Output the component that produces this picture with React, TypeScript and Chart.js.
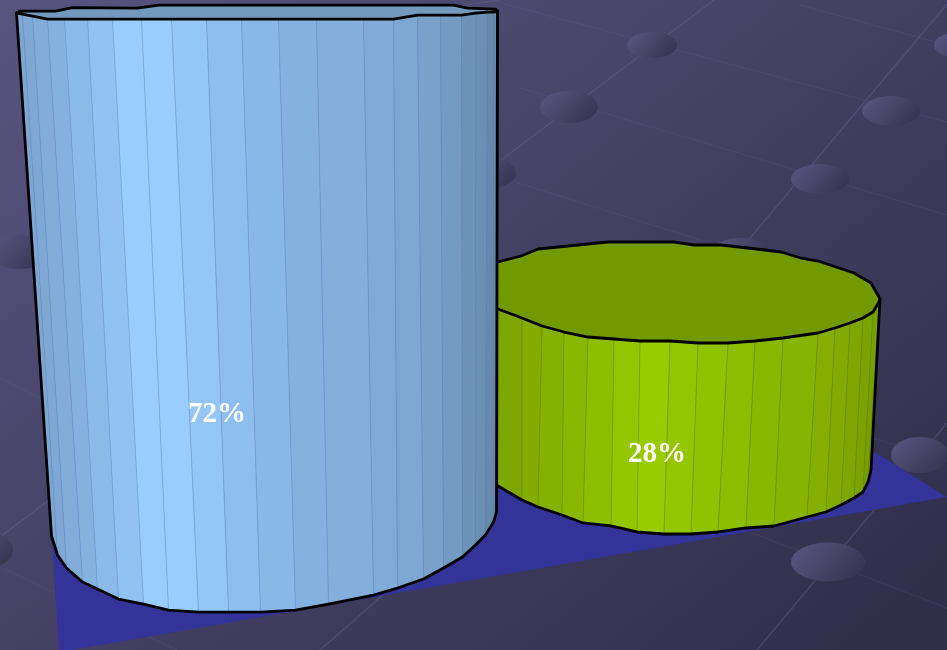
import React, { useEffect, useRef } from 'react';
import { Chart, BarController, BarElement, CategoryScale, LinearScale } from 'chart.js';

// Chart values
const categories = ['A', 'B'];
const tallValues = [72, null];
const shortValues = [null, 28];

// Cylinder shapes: vertices of the faceted side wall, as offsets from the bar's own
// centre, top and base pixels at the design width. Back rim closes the top face.
type Shape = {
  designWidth: number;
  topX: number[]; topY: number[];
  bottomX: number[]; bottomY: number[];
  backRim: number[][];
  shade: number[];
  rgb: number[];
  label: { dx: number; t: number };
};

const tallShape: Shape = {
  designWidth: 481,
  topX: [-240.5, -234.5, -224.5, -209.5, -192.5, -169.5, -144.5, -115.5, -85.5, -50.5, -15.5, 21.5, 59.5, 106.5, 136.5, 160.5, 183.5, 204.5, 218.5, 230.5, 236.5, 240.5],
  topY: [-6, -5, -3, 0, 0, 0, 0, 0, 0, 0, 0, 0, 0, 0, 0, -4, -4, -4, -6, -7, -7, -8],
  bottomX: [-205.5, -199.5, -190.5, -174.5, -159.5, -138.5, -113.5, -88.5, -58.5, -28.5, 3.5, 38.5, 71.5, 116.5, 140.5, 166.5, 186.5, 205.5, 218.5, 228.5, 236.5, 239.5],
  bottomY: [-76, -57, -44, -30, -23, -13, -8, -2, 0, 0, 0, -2, -8, -17, -24, -33, -44, -55, -67, -77, -90, -100],
  backRim: [[-236.5, -8], [-201.5, -8], [-184.5, -11.5], [-119.5, -11], [-98.5, -14], [196.5, -14], [210.5, -11], [238.5, -10]],
  shade: [0.82, 0.83, 0.85, 0.87, 0.91, 0.95, 1, 1, 0.97, 0.93, 0.9, 0.87, 0.86, 0.84, 0.82, 0.79, 0.76, 0.72, 0.7, 0.67, 0.66],
  rgb: [153, 204, 255],
  label: { dx: -40, t: 0.667 },
};

const shortShape: Shape = {
  designWidth: 460,
  topX: [-225, -200, -175, -153, -129, -109, -87, -63, -37, -11, 19, 47, 77, 104, 132, 167, 184, 199, 212, 222, 228, 229],
  topY: [-50, -43, -38, -34, -25, -17, -11, -6, -4, -2, -2, 0, 0, -2, -5, -10, -15, -20, -25, -31, -41, -44],
  bottomX: [-220, -200, -175, -153, -129, -113, -89, -68, -40, -14, 13, 40, 67, 95, 123, 156, 175, 190, 203, 212, 217, 220],
  bottomY: [-84, -72, -58, -48, -34, -27, -19, -11, -8, -2, 0, 0, -2, -6, -8, -17, -22, -29, -36, -42, -52, -64],
  backRim: [[-200, -68], [-175, -75], [-153, -81], [-130, -87], [-113, -94], [-83, -97], [-43, -101], [23, -101], [43, -98], [70, -98], [97, -95], [130, -91], [150, -85], [167, -82], [203, -70], [220, -60], [228, -46]],
  shade: [0.8, 0.8, 0.8, 0.82, 0.85, 0.87, 0.9, 0.93, 0.97, 1, 0.97, 0.95, 0.92, 0.9, 0.88, 0.86, 0.84, 0.82, 0.8, 0.78, 0.77],
  rgb: [153, 204, 0],
  label: { dx: 6, t: 0.582 },
};

const shapes = [tallShape, shortShape];

const tint = (rgb: number[], f: number, a = 1) =>
  `rgba(${rgb.map((c) => Math.round(c * f)).join(',')},${a})`;

// Bar element that paints a faceted cylinder in place of the usual rectangle.
class CylinderElement extends BarElement {
  static id = 'cylinder';
  shapeIndex = 0;
  draw(ctx: CanvasRenderingContext2D) {
    const { x, y, base, width } = (this as any).getProps(['x', 'y', 'base', 'width']);
    const index = this.shapeIndex;
    const s = shapes[index];
    const k = width / s.designWidth;
    const top = s.topX.map((dx, i) => [x + dx * k, y + s.topY[i]]);
    const bottom = s.bottomX.map((dx, i) => [x + dx * k, base + s.bottomY[i]]);
    const last = top.length - 1;

    ctx.save();
    // Side wall, one flat shaded facet at a time
    for (let i = 0; i < last; i++) {
      ctx.beginPath();
      ctx.moveTo(top[i][0], top[i][1]);
      ctx.lineTo(top[i + 1][0], top[i + 1][1]);
      ctx.lineTo(bottom[i + 1][0], bottom[i + 1][1]);
      ctx.lineTo(bottom[i][0], bottom[i][1]);
      ctx.closePath();
      ctx.fillStyle = tint(s.rgb, s.shade[i]);
      ctx.strokeStyle = tint(s.rgb, s.shade[i]);
      ctx.lineWidth = 0.6;
      ctx.fill();
      ctx.stroke();
    }
    // Thin seams between the facets
    ctx.lineWidth = 1;
    ctx.strokeStyle = index === 0 ? 'rgba(95,125,190,0.42)' : 'rgba(95,125,0,0.5)';
    for (let i = 1; i < last; i++) {
      ctx.beginPath();
      ctx.moveTo(top[i][0], top[i][1]);
      ctx.lineTo(bottom[i][0], bottom[i][1]);
      ctx.stroke();
    }
    // Top face
    ctx.beginPath();
    ctx.moveTo(top[0][0], top[0][1]);
    top.forEach((p) => ctx.lineTo(p[0], p[1]));
    [...s.backRim].reverse().forEach((p) => ctx.lineTo(x + p[0] * k, y + p[1]));
    ctx.closePath();
    ctx.fillStyle = tint(s.rgb, 0.75);
    ctx.fill();
    ctx.strokeStyle = '#000';
    ctx.lineWidth = 2.8;
    ctx.lineJoin = 'round';
    ctx.stroke();
    // Silhouette of the wall
    ctx.beginPath();
    ctx.moveTo(top[0][0], top[0][1]);
    bottom.forEach((p) => ctx.lineTo(p[0], p[1]));
    ctx.lineTo(top[last][0], top[last][1]);
    ctx.stroke();
    ctx.restore();
  }
}

class CylinderController extends BarController {
  static id = 'cylinder';
  static defaults = { ...BarController.defaults, dataElementType: 'cylinder' };
  draw() {
    // Each element picks its outline by the dataset it belongs to
    (this as any)._cachedMeta.data.forEach((el: any) => {
      el.shapeIndex = (this as any).index;
    });
    super.draw();
  }
}

// Floor grid: two families of lines, knobs at the crossings, and the shadow sheet
const risingLines = [
  [714, 0, 0, 537], [947, 4, 740, 250], [947, 423, 757, 650], [500, 0, 20, 70], [400, 580, 320, 650],
];
const fallingLines = [
  [490, 0, 947, 122], [520, 88, 947, 215], [515, 182, 700, 240],
  [750, 532, 947, 608], [0, 567, 177, 650], [873, 438, 947, 462], [0, 378, 40, 398], [800, 5, 947, 45],
];
const knobs = [
  [652, 45, 25, 13], [569, 107, 29, 16], [891, 111, 29, 15], [820, 179, 29, 15], [490, 173, 26, 15],
  [740, 253, 30, 15], [960, 45, 26, 13], [920, 455, 29, 18], [828, 562, 37, 19.5], [20, 252, 30, 17], [-15, 550, 28, 18],
];
const floorSheet = [[45, 420], [871, 450], [947, 497], [72, 650], [59, 652]];

const backdrop = {
  id: 'backdrop',
  beforeDatasetsDraw(chart: Chart) {
    const ctx = chart.ctx;
    const { width, height } = chart;
    ctx.save();
    const bg = ctx.createLinearGradient(0, 0, 650, 813);
    bg.addColorStop(0, '#585480');
    bg.addColorStop(1, '#302f4a');
    ctx.fillStyle = bg;
    ctx.fillRect(0, 0, width, height);

    const strokeAll = (lines: number[][], color: string) => {
      ctx.strokeStyle = color;
      ctx.lineWidth = 1.5;
      lines.forEach(([a, b, c, d]) => {
        ctx.beginPath();
        ctx.moveTo(a, b);
        ctx.lineTo(c, d);
        ctx.stroke();
      });
    };
    strokeAll(risingLines, 'rgba(112,108,160,0.32)');
    strokeAll(fallingLines, 'rgba(112,108,160,0.14)');

    knobs.forEach(([cx, cy, rx, ry]) => {
      const g = ctx.createLinearGradient(cx - rx * 0.6, cy - ry, cx + rx * 0.6, cy + ry);
      g.addColorStop(0, '#55527c');
      g.addColorStop(1, '#383654');
      ctx.fillStyle = g;
      ctx.beginPath();
      ctx.ellipse(cx, cy, rx, ry, 0, 0, Math.PI * 2);
      ctx.fill();
    });

    ctx.fillStyle = '#333399';
    ctx.beginPath();
    floorSheet.forEach(([px, py], i) => (i ? ctx.lineTo(px, py) : ctx.moveTo(px, py)));
    ctx.closePath();
    ctx.fill();
    ctx.restore();
  },
};

// Percentage labels printed on the cylinder walls
const valueLabels = {
  id: 'valueLabels',
  afterDatasetsDraw(chart: Chart) {
    const ctx = chart.ctx;
    ctx.save();
    ctx.fillStyle = '#fff';
    ctx.font = 'bold 29px "Liberation Serif"';
    ctx.textAlign = 'center';
    ctx.textBaseline = 'middle';
    chart.data.datasets.forEach((ds, di) => {
      chart.getDatasetMeta(di).data.forEach((el: any, i) => {
        const v = ds.data[i] as number | null;
        if (v === null) return;
        const { dx, t } = shapes[di].label;
        ctx.fillText(`${v}%`, el.x + dx, el.y + (el.base - el.y) * t);
      });
    });
    ctx.restore();
  },
};

Chart.register(CategoryScale, LinearScale, CylinderController, CylinderElement);

export default function App() {
  const ref = useRef<HTMLCanvasElement>(null);
  useEffect(() => {
    const chart = new Chart(ref.current!, {
      type: 'cylinder' as any,
      data: {
        labels: categories,
        datasets: [
          { data: tallValues, yAxisID: 'y', barThickness: 481, backgroundColor: '#99ccff', clip: false } as any,
          { data: shortValues, yAxisID: 'y2', barThickness: 460, backgroundColor: '#99cc00', clip: false } as any,
        ],
      },
      options: {
        animation: false,
        responsive: false,
        grouped: false,
        layout: { padding: { left: 60, right: 99, top: 0, bottom: 0 } },
        plugins: { legend: { display: false }, tooltip: { enabled: false } },
        scales: {
          x: { type: 'category', offset: true, display: false },
          // The two cylinders stand at different depths, so each has its own vertical window
          y: { type: 'linear', display: false, min: -4.61, max: 74.31 },
          y2: { type: 'linear', display: false, min: -17.01, max: 78.29 },
        },
      } as any,
      plugins: [backdrop, valueLabels],
    });
    return () => chart.destroy();
  }, []);
  return (
    <div style={{ position: 'absolute', left: 0, top: 0, width: 947, height: 650 }}>
      <canvas ref={ref} width={947} height={650} style={{ display: 'block' }} />
    </div>
  );
}
